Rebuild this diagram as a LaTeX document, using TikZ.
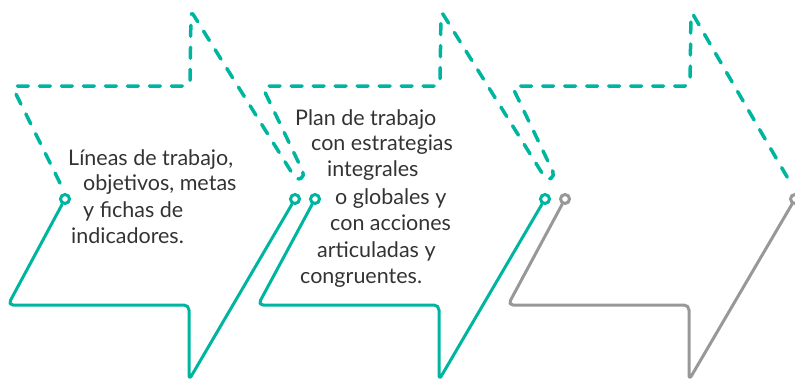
\documentclass[tikz,border=0pt]{standalone}
\usepackage{fontspec}
\setmainfont{Lato}
\usepackage{tikz}

\definecolor{verde}{RGB}{0,181,160}
\definecolor{gris}{RGB}{152,152,154}
\definecolor{texto}{RGB}{51,51,51}

\tikzset{
	borde/.style={line width=3pt, rounded corners=5pt, line cap=round, line join=round},
	punteado/.style={borde, line width=3.5pt, draw=verde, dash pattern=on 11pt off 11pt},
	anillo/.style={circle, draw, line width=3pt, minimum size=9pt, inner sep=0pt, fill=white},
	linea/.style={anchor=base west, inner sep=0pt, text=texto, font=\fontsize{21.5}{26}\selectfont}
}

\begin{document}
\begin{tikzpicture}[x=1pt,y=-1pt]
				\useasboundingbox (0,0) rectangle (795,383);
				% anillos
				\node[anillo, draw=verde] (a1) at (65,199) {};
				\node[anillo, draw=verde] (b1) at (295,199) {};
				\node[anillo, draw=verde] (a2) at (315,199) {};
				\node[anillo, draw=verde] (b2) at (545,199) {};
				\node[anillo, draw=gris] (a3) at (565,199) {};
				\node[anillo, draw=gris] (b3) at (795,199) {};
				% globos de abajo
				\draw [borde, draw=verde] (a1) -- (8,305) -- (189,305) -- (189,380) -- (b1);
				\draw [borde, draw=verde] (a2) -- (258,305) -- (439,305) -- (439,380) -- (b2);
				\draw [borde, draw=gris] (a3) -- (508,305) -- (689,305) -- (689,380) -- (b3);
				% globos de arriba
				\draw [punteado] (60,183) -- (12,86) -- (190,86) -- (191,11) -- (297,181) -- (305,176)
					-- (262,86) -- (440,86) -- (441,11) -- (547,181) -- (555,176)
					-- (512,86) -- (690,86) -- (691,11) -- (790,182);
				% textos
				\node[linea] (l1) at (68,165) {Líneas de trabajo,};
				\node[linea] (l2) at (83,190) {objetivos, metas};
				\node[linea] (l3) at (83,217) {y fichas de};
				\node[linea] (l4) at (71,243) {indicadores.};
				\node[linea] (p1) at (295,125) {Plan de trabajo};
				\node[linea] (p2) at (311,150) {con estrategias};
				\node[linea] (p3) at (327,176) {integrales};
				\node[linea] (p4) at (335,204) {o globales y};
				\node[linea] (p5) at (330,230) {con acciones};
				\node[linea] (p6) at (317,257) {articuladas y};
				\node[linea] (p7) at (300,283) {congruentes.};
\end{tikzpicture}
\end{document}
